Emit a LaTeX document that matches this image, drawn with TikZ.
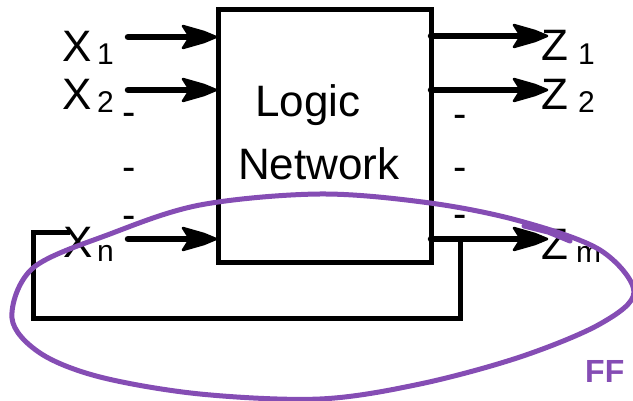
\documentclass[tikz,border=0pt]{standalone}
\usepackage{fontspec}
\setmainfont{Liberation Sans}
\definecolor{pen}{RGB}{133,77,180}
\tikzset{
  arr/.style={line width=6.5pt, line cap=round},
  head/.pic={\filldraw[line width=2.5pt, line join=round] (0,0) -- (-12,-5) -- (-33,-11) -- (-26,0) -- (-33,11) -- (-12,5) -- cycle;},
  wire/.style={line width=5pt},
  big/.style={font=\fontsize{44}{44}\selectfont, inner sep=0pt, anchor=base west},
  sub/.style={font=\fontsize{30}{30}\selectfont, inner sep=0pt, anchor=base west},
  dashtext/.style={font=\fontsize{40}{40}\selectfont, inner sep=0pt, anchor=base},
  ink/.style={draw=pen, line width=5pt, line join=round, line cap=round}
}
\begin{document}
\begin{tikzpicture}[x=1pt,y=-1pt]
\useasboundingbox (0,0) rectangle (633,401);
% box
\node[draw, line width=5pt, minimum width=213pt, minimum height=253pt, inner sep=0pt, outer sep=0pt] (net) at (324.5,136.5) {};
\node[big] (lg) at (255,117) {Logic};
\node[big] (nw) at (238,180) {Network};
% inputs
\coordinate (x1s) at (128,37);
\coordinate (x2s) at (128,90);
\coordinate (xns) at (128,239);
\coordinate (x1e) at ([xshift=-2pt]x1s -| net.west);
\coordinate (x2e) at ([xshift=-2pt]x2s -| net.west);
\coordinate (xne) at ([xshift=-2pt]xns -| net.west);
\draw[arr] (x1s) -- ([xshift=-20pt]x1e);
\draw[arr] (x2s) -- ([xshift=-20pt]x2e);
\draw[arr] (xns) -- ([xshift=-20pt]xne);
\pic at (x1e) {head};
\pic at (x2e) {head};
\pic at (xne) {head};
% outputs
\coordinate (z1e) at (547,36);
\coordinate (z2e) at (547,90);
\coordinate (zme) at (547,239);
\draw[arr] (z1e -| net.east) -- ([xshift=-20pt]z1e);
\draw[arr] (z2e -| net.east) -- ([xshift=-20pt]z2e);
\draw[arr] (zme -| net.east) -- ([xshift=-20pt]zme);
\pic at (z1e) {head};
\pic at (z2e) {head};
\pic at (zme) {head};
% feedback
\coordinate (fb) at (460,239);
\coordinate (fb1) at (460,319);
\coordinate (fb2) at (33,319);
\coordinate (fb3) at (33,233);
\coordinate (fb4) at (70,233);
\draw[wire, line join=miter] (fb) -- (fb1) -- (fb2) -- (fb3) -- (fb4);
% labels
\node[big] (lx1) at (62,62) {X};
\node[sub] (sx1) at (97,65) {1};
\node[big] (lx2) at (62,110) {X};
\node[sub] (sx2) at (97,113) {2};
\node[big] (lxn) at (63,258) {X};
\node[sub] (sxn) at (97,262) {n};
\node[big] (lz1) at (541,61) {Z};
\node[sub] (sz1) at (578,65) {1};
\node[big] (lz2) at (541,110) {Z};
\node[sub] (sz2) at (578,113) {2};
\node[big] (lzm) at (541,260) {Z};
\node[sub] (szm) at (576,263) {m};
% dashes
\node[dashtext] (dl1) at (129,126) {-};
\node[dashtext] (dl2) at (129,181) {-};
\node[dashtext] (dl3) at (129,229) {-};
\node[dashtext] (dr1) at (460,128) {-};
\node[dashtext] (dr2) at (460,181) {-};
\node[dashtext] (dr3) at (460,228) {-};
% purple annotation
\draw[ink] plot[smooth cycle, tension=0.55] coordinates {(12,318) (33,268) (110,234) (200,205) (320,194) (430,203) (520,221) (600,250) (634,292) (600,324) (520,357) (420,384) (320,399) (200,394) (100,377) (40,353)};
\draw[ink] (524,226) -- (548,232) -- (570,241);
\node[text=pen, font=\fontsize{32}{32}\bfseries\selectfont, inner sep=0pt, anchor=base west] (ff) at (585,383) {FF};
\end{tikzpicture}
\end{document}
